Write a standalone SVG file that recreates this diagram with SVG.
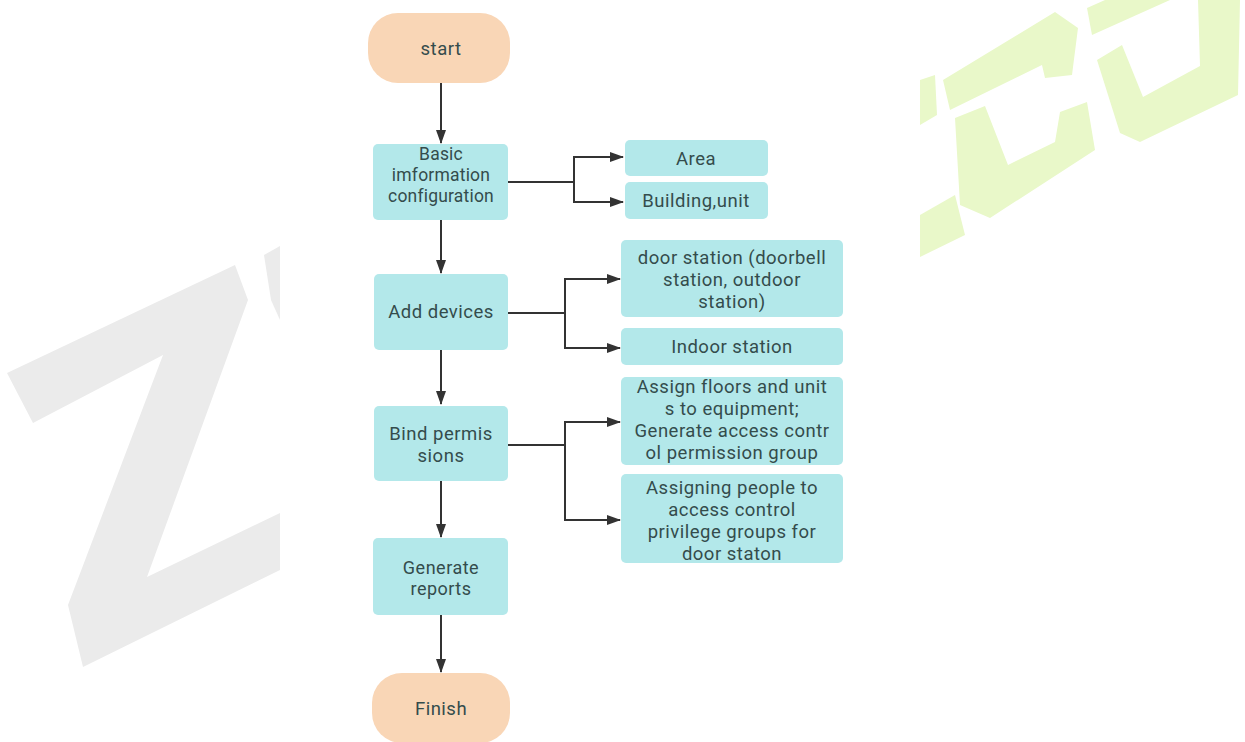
<svg xmlns="http://www.w3.org/2000/svg" width="1245" height="742" viewBox="0 0 1245 742">
<style>
.term{fill:#f9d6b6;}
.box{fill:#b3e8ea;}
.t{font-family:Roboto,"Open Sans","Liberation Sans",sans-serif;font-size:18.5px;letter-spacing:0.5px;fill:#344c4c;text-anchor:middle;}
.ts{font-size:17.5px;letter-spacing:0.2px;}
.tg{font-size:18px;}
.ln{fill:none;stroke:#333;stroke-width:2;}
.wz{fill:#ebebeb;}
.wg{fill:#e9f8c9;}
</style>
<defs>
<marker id="ah" viewBox="0 0 14 10" refX="13" refY="5" markerWidth="14" markerHeight="10" markerUnits="userSpaceOnUse" orient="auto">
<path d="M0,0 L14,5 L0,10 Z" fill="#333"/>
</marker>
</defs>
<rect width="1245" height="742" fill="#fff"/>
<g id="watermark">
<polygon class="wz" points="7,373 235,265 248,300 147,577 280,513 280,570 83,667 68,605 163,355 33,423"/>
<polygon class="wz" points="264,255 280,246 280,320 271,300"/>
<polygon class="wg" points="943,80 1055,12 1078,28 1072,75 1045,78 1042,65 950,110"/>
<polygon class="wg" points="955,118 985,106 1008,165 1055,142 1060,112 1087,102 1095,150 990,218 960,205"/>
<polygon class="wg" points="1097,60 1122,45 1143,97 1200,66 1198,0 1240,0 1238,95 1140,142 1120,133"/>
<polygon class="wg" points="1087,8 1105,0 1170,0 1092,35"/>
<polygon class="wg" points="920,80 935,75 937,115 920,125"/>
<polygon class="wg" points="920,215 955,195 965,235 920,257"/>
</g>
<g id="connectors">
<line class="ln" x1="441" y1="83" x2="441" y2="143" marker-end="url(#ah)"/>
<line class="ln" x1="441" y1="220" x2="441" y2="273" marker-end="url(#ah)"/>
<line class="ln" x1="441" y1="350" x2="441" y2="404" marker-end="url(#ah)"/>
<line class="ln" x1="441" y1="481" x2="441" y2="537" marker-end="url(#ah)"/>
<line class="ln" x1="441" y1="615" x2="441" y2="672" marker-end="url(#ah)"/>
<polyline class="ln" points="508,182 574,182"/>
<polyline class="ln" points="574,202 574,157 623,157" marker-end="url(#ah)"/>
<polyline class="ln" points="574,182 574,202 623,202" marker-end="url(#ah)"/>
<polyline class="ln" points="508,313 565,313"/>
<polyline class="ln" points="565,313 565,279 620,279" marker-end="url(#ah)"/>
<polyline class="ln" points="565,313 565,348 620,348" marker-end="url(#ah)"/>
<polyline class="ln" points="508,445 565,445"/>
<polyline class="ln" points="565,445 565,422 620,422" marker-end="url(#ah)"/>
<polyline class="ln" points="565,445 565,520 620,520" marker-end="url(#ah)"/>
</g>
<g id="start">
<rect class="term" x="368" y="13" width="142" height="70" rx="30"/>
<text class="t" x="441" y="55">start</text>
</g>
<g id="basic">
<rect class="box" x="373" y="144" width="135" height="76" rx="5"/>
<text class="t ts" x="441" y="160">Basic</text>
<text class="t ts" x="441" y="181">imformation</text>
<text class="t ts" x="441" y="202">configuration</text>
</g>
<g id="area">
<rect class="box" x="625" y="140" width="143" height="36" rx="5"/>
<text class="t" x="696" y="165">Area</text>
</g>
<g id="building">
<rect class="box" x="625" y="182" width="143" height="37" rx="5"/>
<text class="t" x="696" y="207">Building,unit</text>
</g>
<g id="add-devices">
<rect class="box" x="374" y="274" width="134" height="76" rx="5"/>
<text class="t" x="441" y="318">Add devices</text>
</g>
<g id="door-station">
<rect class="box" x="621" y="240" width="222" height="77" rx="5"/>
<text class="t" x="732" y="264">door station (doorbell</text>
<text class="t" x="732" y="286">station, outdoor</text>
<text class="t" x="732" y="308">station)</text>
</g>
<g id="indoor-station">
<rect class="box" x="621" y="328" width="222" height="37" rx="5"/>
<text class="t" x="732" y="353">Indoor station</text>
</g>
<g id="bind">
<rect class="box" x="374" y="406" width="134" height="75" rx="5"/>
<text class="t" x="441" y="440">Bind permis</text>
<text class="t" x="441" y="462">sions</text>
</g>
<g id="assign-floors">
<rect class="box" x="621" y="377" width="222" height="88" rx="5"/>
<text class="t" x="732" y="393">Assign floors and unit</text>
<text class="t" x="732" y="415">s to equipment;</text>
<text class="t" x="732" y="437">Generate access contr</text>
<text class="t" x="732" y="459">ol permission group</text>
</g>
<g id="assign-people">
<rect class="box" x="621" y="474" width="222" height="89" rx="5"/>
<text class="t" x="732" y="494">Assigning people to</text>
<text class="t" x="732" y="516">access control</text>
<text class="t" x="732" y="538">privilege groups for</text>
<text class="t" x="732" y="560">door staton</text>
</g>
<g id="generate">
<rect class="box" x="373" y="538" width="135" height="77" rx="5"/>
<text class="t tg" x="441" y="574">Generate</text>
<text class="t tg" x="441" y="595">reports</text>
</g>
<g id="finish">
<rect class="term" x="372" y="673" width="138" height="70" rx="30"/>
<text class="t" x="441" y="715">Finish</text>
</g>
</svg>
